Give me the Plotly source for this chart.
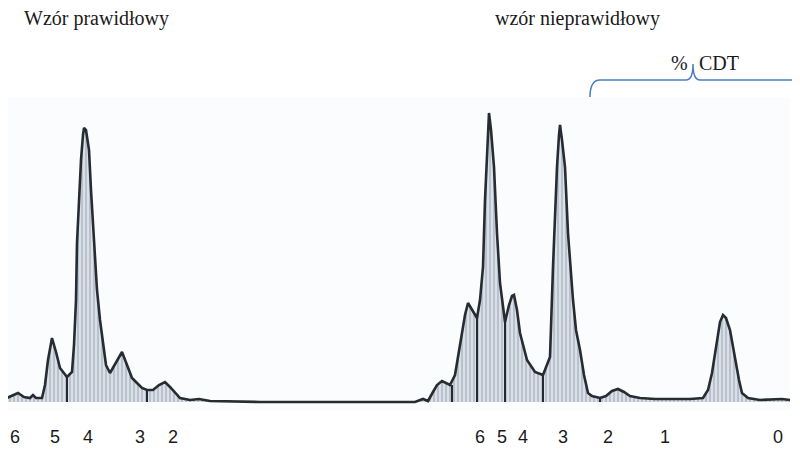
import plotly.graph_objects as go

BASE = 402  # baseline pixel row used to convert read pixel heights to signal

# Trace: migration position and signal height (as pixel rows)
trace_x = [7, 12, 18, 24, 30, 33, 36, 42, 45, 48, 52, 56, 60, 67, 72, 74, 76, 77, 79, 81, 83, 84, 86,
           89, 91, 94, 97, 100, 103, 106, 110, 116, 122, 127, 132, 137, 142, 147, 153, 159, 165, 170,
           175, 180, 190, 199, 210, 260, 320, 400, 415, 423, 428, 433, 437, 442, 446, 450, 455, 462,
           465, 468, 472, 477, 480, 483, 485, 487, 489, 491, 494, 497, 500, 505, 509, 512, 514, 517,
           520, 527, 535, 543, 550, 553, 555, 557, 559, 560, 562, 565, 568, 573, 576, 580, 584, 588,
           592, 600, 606, 612, 618, 624, 630, 640, 655, 668, 690, 703, 708, 712, 717, 720, 723, 726,
           730, 735, 739, 742, 748, 760, 775, 782, 790]
trace_py = [398, 396, 393, 397, 398, 395, 398, 398, 385, 360, 338, 352, 368, 377, 372, 345, 300, 243,
            200, 160, 135, 128, 130, 150, 190, 243, 290, 320, 345, 365, 373, 362, 352, 365, 378, 383,
            388, 390, 390, 385, 382, 387, 393, 398, 400, 399, 401, 402, 402, 402, 402, 399, 401, 392,
            385, 381, 383, 385, 375, 333, 315, 303, 310, 318, 300, 267, 200, 150, 113, 130, 167, 233,
            283, 322, 305, 296, 295, 310, 333, 360, 372, 375, 357, 267, 215, 167, 135, 125, 140, 167,
            233, 300, 330, 350, 375, 393, 396, 398, 396, 391, 389, 392, 396, 398, 399, 399, 399, 398,
            390, 373, 340, 322, 315, 318, 330, 360, 380, 393, 398, 400, 399, 399, 400]
signal = [BASE - p for p in trace_py]

# Valley separator lines
valley_x = [67, 147, 452, 477, 505, 543, 600]
valley_py = [377, 390, 385, 318, 322, 375, 398]

left_labels = ["6", "5", "4", "3", "2"]
left_label_x = [15, 55, 88, 140, 173]
right_labels = ["6", "5", "4", "3", "2", "1", "0"]
right_label_x = [480, 502, 523, 563, 608, 665, 778]

fig = go.Figure()

vx, vy = [], []
for x, p in zip(valley_x, valley_py):
    vx += [x, x, None]
    vy += [0, BASE - p, None]

fig.add_trace(go.Scatter(
    x=trace_x, y=signal, mode="lines", fill="tozeroy",
    line=dict(color="#262c31", width=2.6),
    fillcolor="rgba(190,200,212,0.65)",
    fillpattern=dict(shape="|", bgcolor="rgba(200,209,220,0.65)", fgcolor="rgba(85,100,115,0.7)",
                     size=4, solidity=0.35),
    hoverinfo="skip", showlegend=False))
fig.add_trace(go.Scatter(x=vx, y=vy, mode="lines", line=dict(color="#23292e", width=2),
                         hoverinfo="skip", showlegend=False))

SERIF = "Liberation Serif, Times New Roman, serif"
annotations = []
for t, x in zip(left_labels + right_labels, left_label_x + right_label_x):
    annotations.append(dict(x=x, y=BASE - 437, xref="x", yref="y", text=t, showarrow=False,
                            font=dict(family="Liberation Sans, Arial", size=18, color="#1a1a1a"),
                            xanchor="center", yanchor="middle"))
annotations.append(dict(x=22, y=BASE - 18, xref="x", yref="y", text="Wzór prawidłowy", showarrow=False,
                        font=dict(family=SERIF, size=20, color="#1a1a1a"),
                        xanchor="left", yanchor="middle"))
annotations.append(dict(x=493, y=BASE - 18, xref="x", yref="y", text="wzór nieprawidłowy", showarrow=False,
                        font=dict(family=SERIF, size=20, color="#1a1a1a"),
                        xanchor="left", yanchor="middle"))
annotations.append(dict(x=690, y=BASE - 63, xref="x", yref="y", text="%", showarrow=False,
                        font=dict(family=SERIF, size=20, color="#1a1a1a"),
                        xanchor="right", yanchor="middle"))
annotations.append(dict(x=697, y=BASE - 63, xref="x", yref="y", text="CDT", showarrow=False,
                        font=dict(family=SERIF, size=20, color="#1a1a1a"),
                        xanchor="left", yanchor="middle"))

def Y(p):
    return BASE - p

brace = (f"M 590,{Y(97)} Q 590,{Y(80)} 600,{Y(80)} L 686,{Y(80)} Q 693,{Y(80)} 693,{Y(64)} "
         f"Q 693,{Y(80)} 700,{Y(80)} L 800,{Y(80)}")

shapes = [
    dict(type="rect", x0=7, x1=790, y0=Y(410), y1=Y(97), xref="x", yref="y",
         fillcolor="#fbfcfe", line=dict(width=0), layer="below"),
    dict(type="path", path=brace, xref="x", yref="y", line=dict(color="#4a7fc4", width=1.5)),
]

# The page body has an 8px margin, so the figure covers page pixels 8..800 x 8..449
fig.update_layout(
    width=792, height=441, margin=dict(l=0, r=0, t=0, b=0),
    paper_bgcolor="white", plot_bgcolor="white",
    xaxis=dict(range=[8, 800], visible=False, fixedrange=True),
    yaxis=dict(range=[BASE - 449, BASE - 8], visible=False, fixedrange=True),
    annotations=annotations, shapes=shapes,
)

fig.write_html("out.html")
